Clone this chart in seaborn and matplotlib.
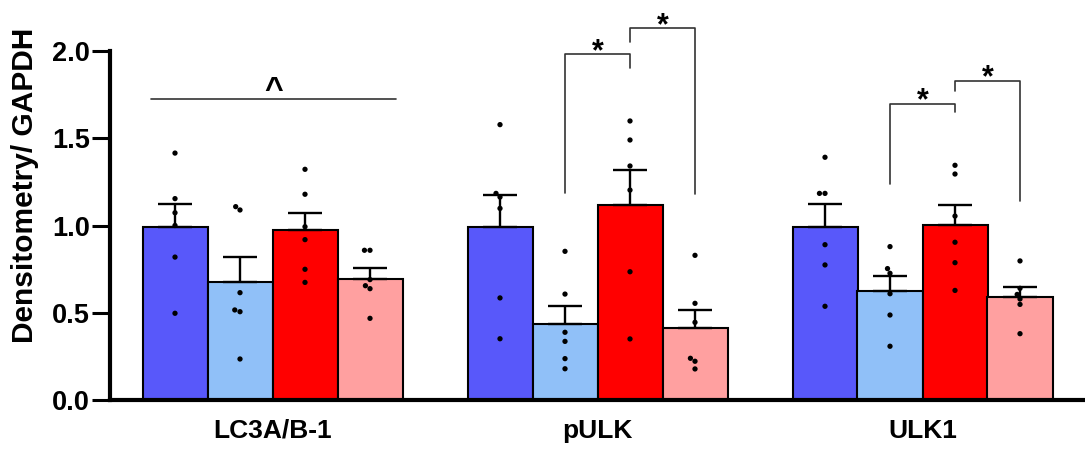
import numpy as np
import pandas as pd
import matplotlib
matplotlib.use("Agg")
import matplotlib.pyplot as plt
import seaborn as sns

# Proteins on the x axis and the four treatment groups
proteins = ["LC3A/B-1", "pULK", "ULK1"]
groups = ["Group 1", "Group 2", "Group 3", "Group 4"]
group_colors = ["#5858FA", "#90C0F8", "#FF0000", "#FFA0A0"]

# Individual densitometry values (normalised to GAPDH)
lc3_g1 = [1.415, 1.154, 1.073, 1.000, 0.819, 0.497]
lc3_g2 = [1.108, 1.089, 0.615, 0.516, 0.506, 0.235]
lc3_g3 = [1.322, 1.179, 0.993, 0.919, 0.749, 0.674]
lc3_g4 = [0.858, 0.858, 0.690, 0.655, 0.638, 0.468]

pulk_g1 = [1.578, 1.184, 1.163, 1.098, 0.585, 0.351]
pulk_g2 = [0.852, 0.607, 0.388, 0.336, 0.237, 0.179]
pulk_g3 = [1.599, 1.490, 1.341, 1.203, 0.735, 0.350]
pulk_g4 = [0.829, 0.554, 0.445, 0.239, 0.222, 0.178]

ulk1_g1 = [1.391, 1.184, 1.184, 0.890, 0.774, 0.537]
ulk1_g2 = [0.879, 0.753, 0.726, 0.609, 0.487, 0.308]
ulk1_g3 = [1.345, 1.295, 1.054, 0.904, 0.787, 0.628]
ulk1_g4 = [0.797, 0.640, 0.605, 0.579, 0.548, 0.380]

y_ticks = [0.0, 0.5, 1.0, 1.5, 2.0]

# Significance brackets: protein index, from/to group index, heights
bracket_protein = [1, 1, 2, 2]
bracket_from = [1, 2, 1, 2]
bracket_to = [2, 3, 2, 3]
bracket_top = [1.98, 2.13, 1.696, 1.828]
bracket_left_end = [1.184, 2.053, 1.238, 1.771]
bracket_right_end = [1.905, 1.179, 1.649, 1.142]

# Overall trend line across LC3A/B-1 groups
trend_span = (-0.375, 0.38)
trend_height = 1.725

series = [
    (proteins[0], [lc3_g1, lc3_g2, lc3_g3, lc3_g4]),
    (proteins[1], [pulk_g1, pulk_g2, pulk_g3, pulk_g4]),
    (proteins[2], [ulk1_g1, ulk1_g2, ulk1_g3, ulk1_g4]),
]
rows = []
for prot, per_group in series:
    for grp, vals in zip(groups, per_group):
        for v in vals:
            rows.append({"protein": prot, "group": grp, "value": v})
df = pd.DataFrame(rows)

sns.set_style("white")
plt.rcParams["font.family"] = ["Liberation Sans", "DejaVu Sans"]
plt.rcParams["font.weight"] = "bold"
plt.rcParams["text.color"] = "black"
plt.rcParams["axes.labelcolor"] = "black"
plt.rcParams["xtick.color"] = "black"
plt.rcParams["ytick.color"] = "black"

fig = plt.figure(figsize=(10.85, 4.5), dpi=100)
ax = fig.add_axes([110 / 1085, 50 / 450, 975 / 1085, 349 / 450])

sns.barplot(data=df, x="protein", y="value", hue="group", order=proteins,
            hue_order=groups, palette=group_colors, saturation=1,
            errorbar=None, edgecolor="black", linewidth=1.5, width=0.8,
            legend=False, ax=ax, zorder=2)

# Upper-only SEM error bars
n_groups = len(groups)
bar_w = 0.8 / n_groups


def bar_x(pi, gi):
    return pi - 0.4 + bar_w * (gi + 0.5)


stats = df.groupby(["protein", "group"])["value"].agg(["mean", "sem"])
for pi, prot in enumerate(proteins):
    for gi, grp in enumerate(groups):
        m, s = stats.loc[(prot, grp)]
        ax.errorbar(bar_x(pi, gi), m, yerr=[[0], [s]], fmt="none",
                    ecolor="black", elinewidth=1.7, capsize=12,
                    capthick=1.7, zorder=3)

sns.swarmplot(data=df, x="protein", y="value", hue="group", order=proteins,
              hue_order=groups, palette=["black"] * n_groups, dodge=True,
              size=3.8, legend=False, ax=ax, zorder=4)

line_kw = dict(color="#333333", lw=1.2, clip_on=False, zorder=5)
for p, a, b, top, le, re in zip(bracket_protein, bracket_from, bracket_to,
                                bracket_top, bracket_left_end, bracket_right_end):
    x0, x1 = bar_x(p, a), bar_x(p, b)
    ax.plot([x0, x0, x1, x1], [le, top, top, re], **line_kw)
    ax.annotate("*", xy=((x0 + x1) / 2, top), xytext=(0, -4),
                textcoords="offset points", ha="center", va="baseline",
                fontsize=22, fontweight="bold", annotation_clip=False)

ax.plot(list(trend_span), [trend_height, trend_height], **line_kw)
ax.annotate("^", xy=(sum(trend_span) / 2, trend_height), xytext=(0, 0),
            textcoords="offset points", ha="center", va="baseline",
            fontsize=23, fontweight="bold", annotation_clip=False)

ax.set_xlim(-0.5, 2.5)
ax.set_ylim(0, 2.0)
ax.set_yticks(y_ticks)
ax.set_yticklabels([f"{t:.1f}" for t in y_ticks])
ax.set_xlabel("")
ax.set_ylabel("Densitometry/ GAPDH", fontsize=21.5, fontweight="bold")
ax.yaxis.set_label_coords(-0.073, 0.616)

for side in ("top", "right"):
    ax.spines[side].set_visible(False)
for side in ("left", "bottom"):
    ax.spines[side].set_linewidth(3)
    ax.spines[side].set_color("black")

ax.tick_params(axis="y", length=13, width=2.2, pad=1.5, labelsize=19.5,
               left=True, color="black")
ax.tick_params(axis="x", length=0, pad=13.5, labelsize=19)
for lab in ax.get_xticklabels() + ax.get_yticklabels():
    lab.set_fontweight("bold")

fig.savefig("out.png", dpi=100)
